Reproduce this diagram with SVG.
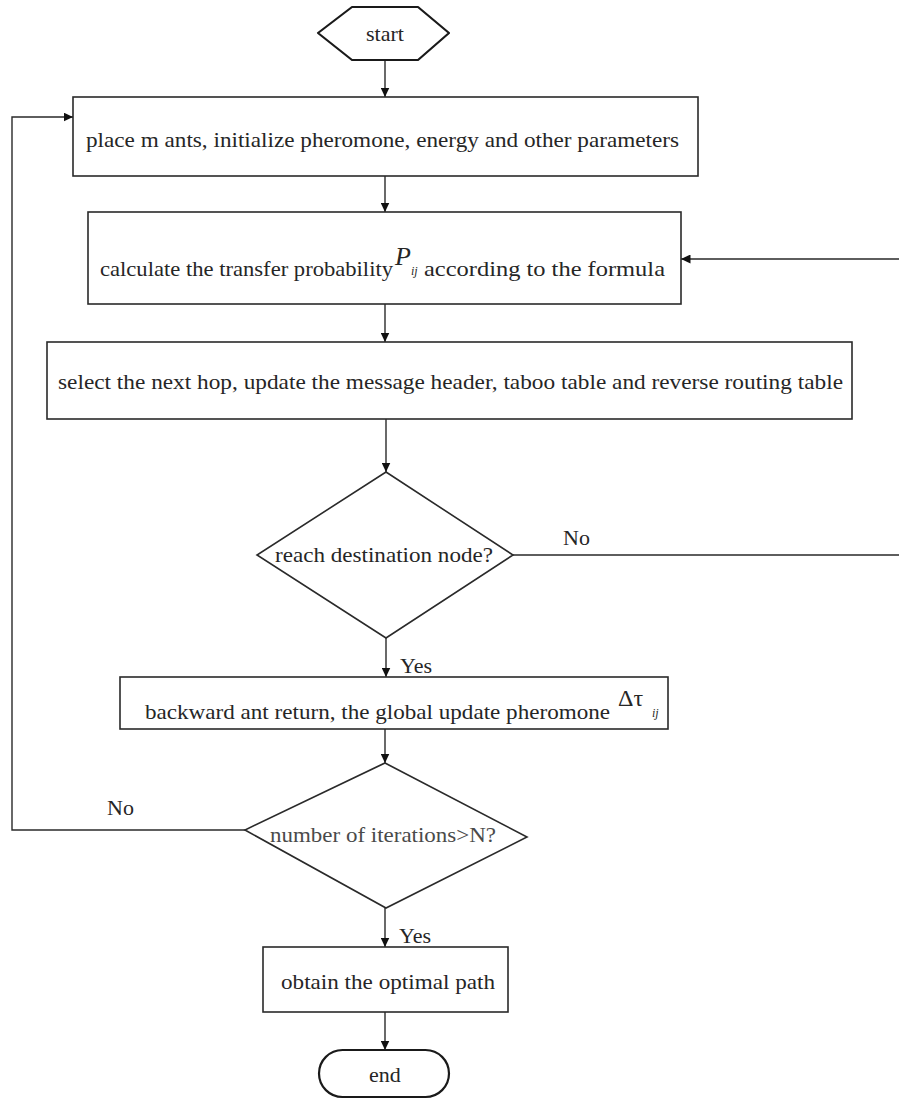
<svg xmlns="http://www.w3.org/2000/svg" width="899" height="1100" viewBox="0 0 899 1100">
<style>
  .shape { fill: #ffffff; stroke: #2a2a2a; stroke-width: 1.6; }
  .term { fill: #ffffff; stroke: #1a1a1a; stroke-width: 2.2; }
  .t { font-family: "Liberation Serif", "Times New Roman", serif; font-size: 22px; fill: #262626; }
  .mid { text-anchor: middle; }
  .it { font-style: italic; }
  .conn { fill: none; stroke: #2a2a2a; stroke-width: 1.4; }
</style>
<defs>
  <marker id="arr" markerUnits="userSpaceOnUse" markerWidth="10" markerHeight="9" refX="9.5" refY="4.5" orient="auto">
    <path d="M0,0 L9.5,4.5 L0,9 z" fill="#111"/>
  </marker>
</defs>
<rect width="899" height="1100" fill="#ffffff"/>

<g id="connectors">
  <path class="conn" d="M385,60 V97" marker-end="url(#arr)"/>
  <path class="conn" d="M385,176 V212" marker-end="url(#arr)"/>
  <path class="conn" d="M385,304 V342" marker-end="url(#arr)"/>
  <path class="conn" d="M386,419 V472" marker-end="url(#arr)"/>
  <path class="conn" d="M386,638 V677" marker-end="url(#arr)"/>
  <path class="conn" d="M385,729 V763" marker-end="url(#arr)"/>
  <path class="conn" d="M385,908 V947" marker-end="url(#arr)"/>
  <path class="conn" d="M385,1012 V1050" marker-end="url(#arr)"/>
  <path class="conn" d="M513,555 H901 V259 H681" marker-end="url(#arr)"/>
  <path class="conn" d="M245,830 H12 V117 H73" marker-end="url(#arr)"/>
  <text class="t" x="563" y="545">No</text>
  <text class="t" x="400" y="673">Yes</text>
  <text class="t" x="107" y="815">No</text>
  <text class="t" x="399" y="943">Yes</text>
</g>

<g id="start">
  <polygon class="term" points="318,33 352,7 418,7 449,33 418,60 352,60" stroke-linejoin="round"/>
  <text class="t mid" x="385" y="41">start</text>
</g>

<g id="init">
  <rect class="shape" x="73" y="97" width="625" height="79"/>
  <text class="t mid" x="382.5" y="147" textLength="593" lengthAdjust="spacingAndGlyphs">place m ants, initialize pheromone, energy and other parameters</text>
</g>

<g id="transfer">
  <rect class="shape" x="88" y="212" width="593" height="92"/>
  <text class="t" x="100" y="276" textLength="293" lengthAdjust="spacingAndGlyphs">calculate the transfer probability</text>
  <text class="t it" x="395" y="265" style="font-size:26px">P</text>
  <text class="t it" x="411" y="275" style="font-size:12px">ij</text>
  <text class="t" x="424" y="276" textLength="241" lengthAdjust="spacingAndGlyphs">according to the formula</text>
</g>

<g id="select">
  <rect class="shape" x="47" y="342" width="805" height="77"/>
  <text class="t mid" x="450.5" y="389" textLength="785" lengthAdjust="spacingAndGlyphs">select the next hop, update the message header, taboo table and reverse routing table</text>
</g>

<g id="reach">
  <polygon class="shape" points="386,472 513,555 386,638 257,555"/>
  <text class="t mid" x="384" y="562" textLength="218" lengthAdjust="spacingAndGlyphs">reach destination node?</text>
</g>

<g id="backward">
  <rect class="shape" x="120" y="677" width="548" height="52"/>
  <text class="t" x="145" y="719" textLength="465" lengthAdjust="spacingAndGlyphs">backward ant return, the global update pheromone</text>
  <text class="t" x="618" y="706" style="font-size:24px">Δτ</text>
  <text class="t it" x="652" y="717" style="font-size:12px">ij</text>
</g>

<g id="iter">
  <polygon class="shape" points="385,763 527,837 386,908 245,830"/>
  <text class="t mid" x="383" y="842" textLength="226" lengthAdjust="spacingAndGlyphs" style="fill:#4a4a4a">number of iterations&gt;N?</text>
</g>

<g id="optimal">
  <rect class="shape" x="263" y="947" width="245" height="65"/>
  <text class="t mid" x="388" y="989" textLength="214" lengthAdjust="spacingAndGlyphs">obtain the optimal path</text>
</g>

<g id="end">
  <rect class="term" x="319" y="1050" width="130" height="47" rx="23.5" ry="23.5"/>
  <text class="t mid" x="385" y="1082">end</text>
</g>
</svg>
